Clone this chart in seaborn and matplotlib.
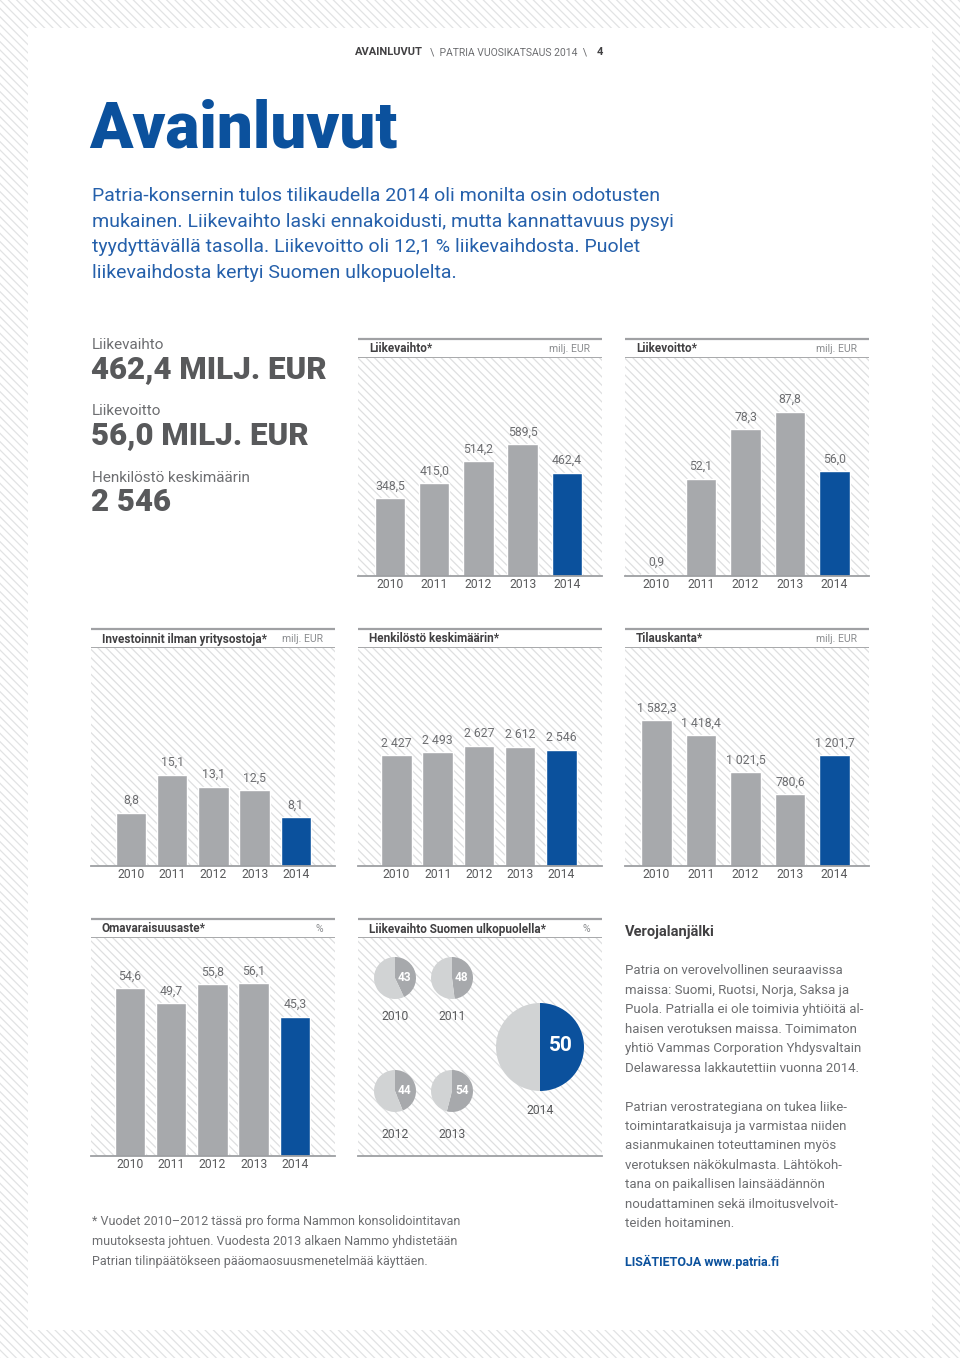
import matplotlib
matplotlib.use('Agg')
import matplotlib.pyplot as plt
import seaborn as sns
import pandas as pd
from matplotlib.patches import Rectangle

years = ['2010', '2011', '2012', '2013', '2014']
liikevaihto = [348.5, 415.0, 514.2, 589.5, 462.4]
liikevoitto = [0.9, 52.1, 78.3, 87.8, 56.0]
investoinnit = [8.8, 15.1, 13.1, 12.5, 8.1]
henkilosto = [2427, 2493, 2627, 2612, 2546]
tilauskanta = [1582.3, 1418.4, 1021.5, 780.6, 1201.7]
omavaraisuus = [54.6, 49.7, 55.8, 56.1, 45.3]
ulkomaat = [43, 48, 44, 54, 50]

intro_lines = [
    'Patria-konsernin tulos tilikaudella 2014 oli monilta osin odotusten',
    'mukainen. Liikevaihto laski ennakoidusti, mutta kannattavuus pysyi',
    'tyydyttävällä tasolla. Liikevoitto oli 12,1 % liikevaihdosta. Puolet',
    'liikevaihdosta kertyi Suomen ulkopuolelta.',
]
vero_lines_1 = [
    'Patria on verovelvollinen seuraavissa',
    'maissa: Suomi, Ruotsi, Norja, Saksa ja',
    'Puola. Patrialla ei ole toimivia yhtiöitä al-',
    'haisen verotuksen maissa. Toimimaton',
    'yhtiö Vammas Corporation Yhdysvaltain',
    'Delawaressa lakkautettiin vuonna 2014.',
]
vero_lines_2 = [
    'Patrian verostrategiana on tukea liike-',
    'toimintaratkaisuja ja varmistaa niiden',
    'asianmukainen toteuttaminen myös',
    'verotuksen näkökulmasta. Lähtökoh-',
    'tana on paikallisen lainsäädännön',
    'noudattaminen sekä ilmoitusvelvoit-',
    'teiden hoitaminen.',
]
foot_lines = [
    '* Vuodet 2010–2012 tässä pro forma Nammon konsolidointitavan',
    'muutoksesta johtuen. Vuodesta 2013 alkaen Nammo yhdistetään',
    'Patrian tilinpäätökseen pääomaosuusmenetelmää käyttäen.',
]

BLUE = '#0b519d'
GREY = '#a7a9ac'
LIGHT = '#d1d3d4'
DARK = '#414042'
TEXT = '#6d6e71'
BIG = '#58595b'
LINE = '#a0a1a4'
HATCH = '#dedfe0'
PATTERN = '\\' * 4

W, H = 960, 1358

sns.set_theme(style='white')
plt.rcParams['font.family'] = ['Roboto', 'DejaVu Sans']
plt.rcParams['hatch.linewidth'] = 0.9

fig = plt.figure(figsize=(W / 100, H / 100), dpi=100)


def box(x, y, w, h):
    """pixel box (top-left origin) -> figure fraction rect"""
    return [x / W, 1 - (y + h) / H, w / W, h / H]


def fin(v, dec):
    s = f'{v:,.{dec}f}'
    return s.replace(',', ' ').replace('.', ',')


page = fig.add_axes([0, 0, 1, 1])
page.set_xlim(0, W)
page.set_ylim(H, 0)
page.axis('off')
page.add_patch(Rectangle((0, 0), W, H, facecolor='white', edgecolor='#e2e3e4',
                         hatch=PATTERN, lw=0))
page.add_patch(Rectangle((28, 28), 904, 1302, facecolor='white', lw=0))

# running header
page.text(355, 52, 'AVAINLUVUT', fontsize=8, fontweight='bold', color=DARK, va='center')
page.text(430, 52, '\\  PATRIA VUOSIKATSAUS 2014  \\', fontsize=7.5, color=TEXT, va='center')
page.text(597, 52, '4', fontsize=8, fontweight='bold', color=DARK, va='center')

page.text(89, 129, 'Avainluvut', fontsize=46, fontweight='black', color=BLUE, va='center')
for i, line in enumerate(intro_lines):
    page.text(92, 196 + i * 25.7, line, fontsize=14, color='#2560ab', va='center')

# key figures on the left
stats = [('Liikevaihto', fin(liikevaihto[-1], 1) + ' MILJ. EUR', 345),
         ('Liikevoitto', fin(liikevoitto[-1], 1) + ' MILJ. EUR', 411),
         ('Henkilöstö keskimäärin', fin(henkilosto[-1], 0), 478)]
for label, value, y in stats:
    page.text(92, y, label, fontsize=11, color=TEXT, va='center')
    page.text(91, y + 24, value, fontsize=22.5, fontweight='black', color=BIG, va='center')


def header(x, y, w, title, unit):
    page.plot([x, x + w], [y, y], color=LINE, lw=1.6, solid_capstyle='butt')
    page.plot([x, x + w], [y + 19, y + 19], color=LINE, lw=1.3, solid_capstyle='butt')
    page.text(x + 11, y + 10, title, fontsize=8.5, fontweight='bold', color=DARK, va='center')
    if unit:
        page.text(x + w - 12, y + 10, unit, fontsize=7.5, color='#8a8c8f', va='center', ha='right')


def hatched(ax):
    ax.add_patch(Rectangle((0, 0), 1, 1, transform=ax.transAxes, facecolor='white',
                           edgecolor=HATCH, hatch=PATTERN, lw=0, zorder=0))


def bar_panel(x, y, title, unit, values, ymax, dec, offset, step):
    w = 244
    header(x, y, w, title, unit)
    ax = fig.add_axes(box(x, y + 19, w, 218))
    hatched(ax)
    df = pd.DataFrame({'year': years, 'value': values})
    sns.barplot(df, x='year', y='value', hue='year', palette=[GREY] * 4 + [BLUE],
                width=30.5 / step, saturation=1, legend=False, ax=ax, zorder=2)
    for cont, v in zip(ax.containers, values):
        ax.bar_label(cont, labels=[fin(v, dec)], padding=4, fontsize=8.8, color=TEXT)
    ax.set_xlim(-offset / step, (w - offset) / step)
    ax.set_ylim(0, ymax)
    ax.set_yticks([])
    ax.set_xlabel('')
    ax.set_ylabel('')
    for s in ['top', 'right', 'left']:
        ax.spines[s].set_visible(False)
    ax.spines['bottom'].set_color('#9d9fa2')
    ax.spines['bottom'].set_linewidth(1.3)
    ax.tick_params(axis='x', length=0, pad=1.5, labelsize=8.7, labelcolor='#58595b')
    return ax


bar_panel(358, 339, 'Liikevaihto*', 'milj. EUR', liikevaihto, 975, 1, 32, 44.2)
bar_panel(625, 339, 'Liikevoitto*', 'milj. EUR', liikevoitto, 116.5, 1, 31.5, 44.5)
bar_panel(91, 629, 'Investoinnit ilman yritysostoja*', 'milj. EUR', investoinnit, 36, 1, 40, 41.2)
bar_panel(358, 629, 'Henkilöstö keskimäärin*', None, henkilosto, 4770, 0, 38.5, 41.2)
bar_panel(625, 629, 'Tilauskanta*', 'milj. EUR', tilauskanta, 2366, 1, 31.5, 44.5)
bar_panel(91, 919, 'Omavaraisuusaste*', '%', omavaraisuus, 70.8, 1, 39, 41.2)

# pies: share of revenue outside Finland
header(358, 919, 244, 'Liikevaihto Suomen ulkopuolella*', '%')
pax = fig.add_axes(box(358, 938, 244, 218))
hatched(pax)
pax.set_xticks([])
pax.set_yticks([])
for s in ['top', 'right', 'left']:
    pax.spines[s].set_visible(False)
pax.spines['bottom'].set_color('#9d9fa2')
pax.spines['bottom'].set_linewidth(1.3)

pie_spots = [(395, 978, 21, 38), (452, 978, 21, 38), (395, 1091, 21, 44),
             (452, 1091, 21, 44), (540, 1047, 44, 64)]
for k, (cx, cy, r, dy) in enumerate(pie_spots):
    v = ulkomaat[k]
    a = fig.add_axes(box(cx - r, cy - r, 2 * r, 2 * r))
    col = BLUE if k == len(ulkomaat) - 1 else GREY
    a.pie([v, 100 - v], colors=[col, LIGHT], startangle=90, counterclock=False,
          wedgeprops={'linewidth': 0})
    a.set_xlim(-1, 1)
    a.set_ylim(-1, 1)
    big = r > 30
    a.text(0.47, 0.04, str(v), fontsize=15 if big else 8.5, fontweight='bold',
           color='white', ha='center', va='center')
    a.text(0, -dy / r, years[k], fontsize=8.7, color='#58595b', ha='center',
           va='center', clip_on=False)

# tax footprint text
page.text(625, 932, 'Verojalanjälki', fontsize=10.5, fontweight='bold', color=DARK, va='center')
for i, line in enumerate(vero_lines_1):
    page.text(625, 971 + i * 19.4, line, fontsize=9.5, color=TEXT, va='center')
for i, line in enumerate(vero_lines_2):
    page.text(625, 1107 + i * 19.4, line, fontsize=9.5, color=TEXT, va='center')
page.text(625, 1262, 'LISÄTIETOJA www.patria.fi', fontsize=9, fontweight='bold', color=BLUE, va='center')

for i, line in enumerate(foot_lines):
    page.text(92, 1222 + i * 19.5, line, fontsize=9, color=TEXT, va='center')

fig.savefig('out.png', dpi=100)
